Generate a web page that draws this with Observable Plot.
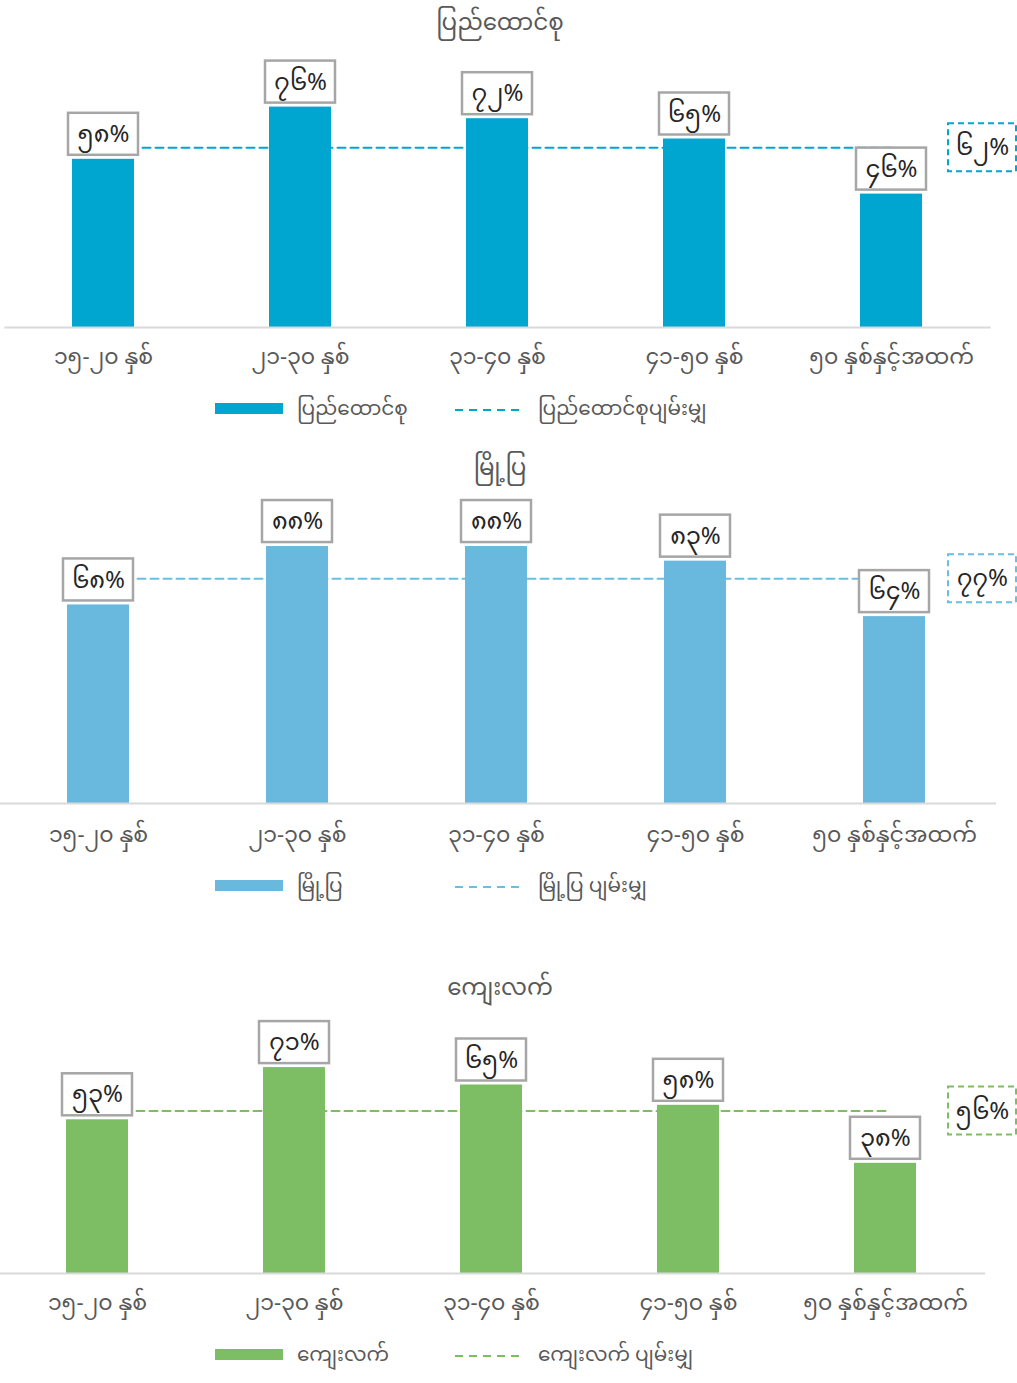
<!DOCTYPE html>
<html>
<head>
<meta charset="utf-8">
<script src="https://cdn.jsdelivr.net/npm/d3@7"></script>
<script src="https://cdn.jsdelivr.net/npm/@observablehq/plot@0.6"></script>
<style>
  html, body { margin: 0; padding: 0; background: #fff; }
  body { width: 1017px; height: 1383px; position: relative; overflow: hidden;
         font-family: "Noto Sans Myanmar", "Padauk", "Myanmar Text", "Pyidaungsu", "Noto Sans", sans-serif; }
  .abs { position: absolute; }
  .title { left: 0; width: 1000px; text-align: center; font-size: 23px; color: #595959; line-height: 30px; }
  .lg-text { font-size: 20px; color: #595959; line-height: 30px; white-space: nowrap; }
  .swatch { height: 11px; width: 68px; }
  .dashbox { line-height: 0; font-size: 0; }
  .dashbox svg { display: block; }
</style>
</head>
<body>
<div id="root"></div>
<script>
// ---------- data ----------
const categories = ["၁၅-၂၀ နှစ်", "၂၁-၃၀ နှစ်", "၃၁-၄၀ နှစ်", "၄၁-၅၀ နှစ်", "၅၀ နှစ်နှင့်အထက်"];

const unionTitle = "ပြည်ထောင်စု";
const unionAvgLabel = "ပြည်ထောင်စုပျမ်းမျှ";
const unionValues = [58, 76, 72, 65, 46];
const unionAvg = 62;

const urbanTitle = "မြို့ပြ";
const urbanAvgLabel = "မြို့ပြ ပျမ်းမျှ";
const urbanValues = [68, 88, 88, 83, 64];
const urbanAvg = 77;

const ruralTitle = "ကျေးလက်";
const ruralAvgLabel = "ကျေးလက် ပျမ်းမျှ";
const ruralValues = [53, 71, 65, 58, 38];
const ruralAvg = 56;

const digits = "၀၁၂၃၄၅၆၇၈၉";
const myNum = (n) => String(n).replace(/[0-9]/g, (d) => digits[+d]) + "%";

const FONT = `"Noto Sans Myanmar", "Padauk", "Myanmar Text", "Pyidaungsu", "Noto Sans", sans-serif`;

// ---------- layout config ----------
const charts = [
  {title: unionTitle, avgLabel: unionAvgLabel, values: unionValues, avg: unionAvg,
   color: "#00A5D0", dashColor: "#00A5D0", dashWidth: 2,
   titleY: 25, svgTop: 45, baseline: 327, svgH: 340, k: 2.9, dMax: 90,
   range: [4.4, 990.6], mL: 4.4, mR: 26.4, legendY: 409, tickPad: 21},
  {title: urbanTitle, avgLabel: urbanAvgLabel, values: urbanValues, avg: urbanAvg,
   color: "#68B9DD", dashColor: "#6CBDE2", dashWidth: 2,
   titleY: 470, svgTop: 490, baseline: 803, svgH: 370, k: 2.92, dMax: 100,
   range: [-3, 996], mL: 0, mR: 21, legendY: 886, tickPad: 23},
  {title: ruralTitle, avgLabel: ruralAvgLabel, values: ruralValues, avg: ruralAvg,
   color: "#7DBE64", dashColor: "#7DBE64", dashWidth: 2,
   titleY: 990, svgTop: 1010, baseline: 1273, svgH: 330, k: 2.9, dMax: 80,
   range: [-2.75, 984.75], mL: 0, mR: 32, legendY: 1355, tickPad: 21}
];

const root = document.getElementById("root");

function addDiv(cls, style, text) {
  const d = document.createElement("div");
  d.className = "abs " + cls;
  Object.assign(d.style, style);
  if (text != null) d.textContent = text;
  root.appendChild(d);
  return d;
}

for (const c of charts) {
  // title
  addDiv("title", {top: (c.titleY - 15) + "px"}, c.title);

  const data = categories.map((cat, i) => ({cat, v: c.values[i], label: myNum(c.values[i])}));
  const avgData = [{cat: categories[0], v: c.avg}, {cat: categories[categories.length - 1], v: c.avg}];
  const marginBottom = c.svgTop + c.svgH - c.baseline;
  const marginTop = c.baseline - c.svgTop - c.k * c.dMax;
  const bandStep = (c.range[1] - c.range[0]) / categories.length;
  const pad = 1 - 62.5 / bandStep;

  const plot = Plot.plot({
    width: 1017,
    height: c.svgH,
    marginLeft: c.mL,
    marginRight: c.mR,
    marginTop,
    marginBottom,
    style: {fontFamily: FONT, background: "transparent", overflow: "visible"},
    x: {domain: categories, range: c.range, paddingInner: pad, paddingOuter: pad / 2, align: 0.5, label: null},
    y: {domain: [0, c.dMax], axis: null},
    marks: [
      Plot.lineY(avgData, {x: "cat", y: "v", stroke: c.dashColor, strokeWidth: c.dashWidth, strokeDasharray: "8,5"}),
      Plot.barY(data, {x: "cat", y: "v", fill: c.color}),
      Plot.ruleY([0], {stroke: "#D9D9D9", strokeWidth: 2}),
      Plot.axisX({tickSize: 0, tickPadding: c.tickPad, fontSize: 22, color: "#595959", label: null}),
      // value label boxes
      Plot.barY(data, {x: "cat", y1: "v", y2: "v", insetTop: -46, insetBottom: 4, insetLeft: -4, insetRight: -4,
                       fill: "white", stroke: "#A6A6A6", strokeWidth: 2.5}),
      Plot.text(data, {x: "cat", y: "v", text: "label", dy: -25, fontSize: 24, fill: "#262626"}),
      // average box on the right
      Plot.rect([c.avg], {y1: (d) => d, y2: (d) => d, insetTop: -24, insetBottom: -24,
                          insetLeft: 948 - c.mL, insetRight: -(1016 - (1017 - c.mR)),
                          fill: "white", stroke: c.dashColor, strokeWidth: 2, strokeDasharray: "6,4"}),
      Plot.text([c.avg], {y: (d) => d, text: (d) => myNum(d), frameAnchor: "right", dx: 982 - (1017 - c.mR),
                          textAnchor: "middle", fontSize: 24, fill: "#262626"})
    ]
  });
  plot.style.position = "absolute";
  plot.style.left = "0px";
  plot.style.top = c.svgTop + "px";
  root.appendChild(plot);

  // legend
  addDiv("swatch", {left: "215px", top: (c.legendY - 6) + "px", background: c.color});
  addDiv("lg-text", {left: "297px", top: (c.legendY - 13) + "px"}, c.title);
  const dash = addDiv("dashbox", {left: "455px", top: (c.legendY - 5) + "px", width: "70px", height: "10px"});
  dash.innerHTML = `<svg width="70" height="10"><line x1="0" x2="68" y1="6" y2="6" stroke="${c.dashColor}" stroke-width="2" stroke-dasharray="8,6"/></svg>`;
  addDiv("lg-text", {left: "538px", top: (c.legendY - 13) + "px"}, c.avgLabel);
}
</script>
</body>
</html>
